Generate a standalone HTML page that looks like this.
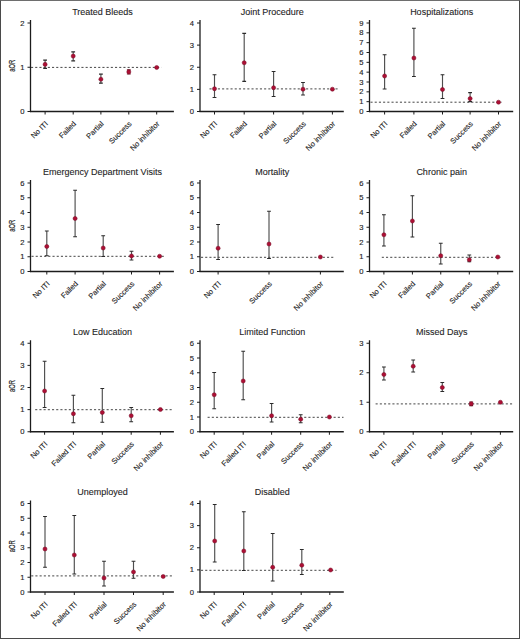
<!DOCTYPE html>
<html><head><meta charset="utf-8"><style>
html,body{margin:0;padding:0;background:#fff;}
body{width:520px;height:639px;overflow:hidden;}
.frame{position:absolute;left:0;top:0;width:518px;height:637px;border:1px solid #4a4a4a;border-top-color:#6e6e6e;}
svg{position:absolute;left:0;top:0;}
text{font-family:"Liberation Sans",sans-serif;fill:#1e1e1e;stroke:#1e1e1e;stroke-width:0.2px;}
.t{font-size:9px;text-anchor:middle;stroke-width:0.1px;}
.yl{font-size:8.4px;text-anchor:middle;}
.yt{font-size:7.6px;text-anchor:end;stroke-width:0.15px;}
.xt{font-size:7.5px;text-anchor:end;stroke-width:0.12px;}
.ax{stroke:#1c1c1c;stroke-width:1.3;}
.tk{stroke:#1c1c1c;stroke-width:1;}
.ds{stroke:#454545;stroke-width:1;stroke-dasharray:2.1 2.1;}
.eb{stroke:#4e4e4e;stroke-width:1.15;fill:none;}
.cp{stroke:#2a2a2a;stroke-width:1.2;fill:none;}
.cp2{stroke:#6a1a2a;stroke-width:1.2;fill:none;}
.dt{fill:#ad0f34;stroke:#750a24;stroke-width:0.5;}
</style></head><body>
<div class="frame"></div>
<svg width="520" height="639" viewBox="0 0 520 639">
<text x="102.5" y="14.7" class="t">Treated Bleeds</text>
<text transform="translate(14.5 65.8) rotate(-90) scale(0.7 1)" class="yl">aOR</text>
<line x1="30.5" y1="20" x2="30.5" y2="112.1" class="ax"/>
<line x1="29.9" y1="111.5" x2="173.9" y2="111.5" class="ax"/>
<line x1="27.5" y1="111.5" x2="30.5" y2="111.5" class="tk"/>
<text x="24.5" y="114" class="yt">0</text>
<line x1="27.5" y1="67.25" x2="30.5" y2="67.25" class="tk"/>
<text x="24.5" y="69.75" class="yt">1</text>
<line x1="27.5" y1="23" x2="30.5" y2="23" class="tk"/>
<text x="24.5" y="25.5" class="yt">2</text>
<line x1="45.1" y1="111.5" x2="45.1" y2="114.5" class="tk"/>
<text transform="translate(48.4 124.3) rotate(-45)" class="xt">No ITI</text>
<line x1="73.2" y1="111.5" x2="73.2" y2="114.5" class="tk"/>
<text transform="translate(76.5 124.3) rotate(-45)" class="xt">Failed</text>
<line x1="100.9" y1="111.5" x2="100.9" y2="114.5" class="tk"/>
<text transform="translate(104.2 124.3) rotate(-45)" class="xt">Partial</text>
<line x1="128.8" y1="111.5" x2="128.8" y2="114.5" class="tk"/>
<text transform="translate(132.1 124.3) rotate(-45)" class="xt">Success</text>
<line x1="156.7" y1="111.5" x2="156.7" y2="114.5" class="tk"/>
<text transform="translate(160 124.3) rotate(-45)" class="xt">No inhibitor</text>
<line x1="31" y1="67.4" x2="161.3" y2="67.4" class="ds"/>
<path d="M45.1 60.1V68.4" class="eb"/>
<path d="M43.2 60.1H47M43.2 68.4H47" class="cp"/>
<circle cx="45.1" cy="64.4" r="2.05" class="dt"/>
<path d="M73.2 51.9V60.8" class="eb"/>
<path d="M71.3 51.9H75.1M71.3 60.8H75.1" class="cp"/>
<circle cx="73.2" cy="56.1" r="2.05" class="dt"/>
<path d="M100.9 74.2V83.2" class="eb"/>
<path d="M99 74.2H102.8M99 83.2H102.8" class="cp"/>
<circle cx="100.9" cy="79.3" r="2.05" class="dt"/>
<path d="M128.8 69.8V74" class="eb"/>
<path d="M126.9 69.8H130.7M126.9 74H130.7" class="cp2"/>
<circle cx="128.8" cy="71.9" r="2.05" class="dt"/>
<circle cx="156.7" cy="67.5" r="2.05" class="dt"/>
<text x="272.2" y="14.7" class="t">Joint Procedure</text>
<line x1="200" y1="20" x2="200" y2="112.1" class="ax"/>
<line x1="199.4" y1="111.5" x2="343.8" y2="111.5" class="ax"/>
<line x1="197" y1="111.5" x2="200" y2="111.5" class="tk"/>
<text x="194" y="114" class="yt">0</text>
<line x1="197" y1="89.38" x2="200" y2="89.38" class="tk"/>
<text x="194" y="91.88" class="yt">1</text>
<line x1="197" y1="67.25" x2="200" y2="67.25" class="tk"/>
<text x="194" y="69.75" class="yt">2</text>
<line x1="197" y1="45.12" x2="200" y2="45.12" class="tk"/>
<text x="194" y="47.62" class="yt">3</text>
<line x1="197" y1="23" x2="200" y2="23" class="tk"/>
<text x="194" y="25.5" class="yt">4</text>
<line x1="214.5" y1="111.5" x2="214.5" y2="114.5" class="tk"/>
<text transform="translate(217.8 124.3) rotate(-45)" class="xt">No ITI</text>
<line x1="244.2" y1="111.5" x2="244.2" y2="114.5" class="tk"/>
<text transform="translate(247.5 124.3) rotate(-45)" class="xt">Failed</text>
<line x1="273.6" y1="111.5" x2="273.6" y2="114.5" class="tk"/>
<text transform="translate(276.9 124.3) rotate(-45)" class="xt">Partial</text>
<line x1="303" y1="111.5" x2="303" y2="114.5" class="tk"/>
<text transform="translate(306.3 124.3) rotate(-45)" class="xt">Success</text>
<line x1="332.4" y1="111.5" x2="332.4" y2="114.5" class="tk"/>
<text transform="translate(335.7 124.3) rotate(-45)" class="xt">No inhibitor</text>
<line x1="209.5" y1="88.9" x2="338.5" y2="88.9" class="ds"/>
<path d="M214.5 74.75V97.5" class="eb"/>
<path d="M212.6 74.75H216.4M212.6 97.5H216.4" class="cp"/>
<circle cx="214.5" cy="88.75" r="2.05" class="dt"/>
<path d="M244.2 33.4V81.3" class="eb"/>
<path d="M242.3 33.4H246.1M242.3 81.3H246.1" class="cp"/>
<circle cx="244.2" cy="62.75" r="2.05" class="dt"/>
<path d="M273.6 71.5V96.5" class="eb"/>
<path d="M271.7 71.5H275.5M271.7 96.5H275.5" class="cp"/>
<circle cx="273.6" cy="87.75" r="2.05" class="dt"/>
<path d="M303 82.5V95" class="eb"/>
<path d="M301.1 82.5H304.9M301.1 95H304.9" class="cp"/>
<circle cx="303" cy="89.25" r="2.05" class="dt"/>
<circle cx="332.4" cy="89.2" r="2.05" class="dt"/>
<text x="441.65" y="14.7" class="t">Hospitalizations</text>
<line x1="369.5" y1="20" x2="369.5" y2="112.1" class="ax"/>
<line x1="368.9" y1="111.5" x2="513.2" y2="111.5" class="ax"/>
<line x1="366.5" y1="111.5" x2="369.5" y2="111.5" class="tk"/>
<text x="363.5" y="114" class="yt">0</text>
<line x1="366.5" y1="101.67" x2="369.5" y2="101.67" class="tk"/>
<text x="363.5" y="104.17" class="yt">1</text>
<line x1="366.5" y1="91.83" x2="369.5" y2="91.83" class="tk"/>
<text x="363.5" y="94.33" class="yt">2</text>
<line x1="366.5" y1="82" x2="369.5" y2="82" class="tk"/>
<text x="363.5" y="84.5" class="yt">3</text>
<line x1="366.5" y1="72.17" x2="369.5" y2="72.17" class="tk"/>
<text x="363.5" y="74.67" class="yt">4</text>
<line x1="366.5" y1="62.33" x2="369.5" y2="62.33" class="tk"/>
<text x="363.5" y="64.83" class="yt">5</text>
<line x1="366.5" y1="52.5" x2="369.5" y2="52.5" class="tk"/>
<text x="363.5" y="55" class="yt">6</text>
<line x1="366.5" y1="42.67" x2="369.5" y2="42.67" class="tk"/>
<text x="363.5" y="45.17" class="yt">7</text>
<line x1="366.5" y1="32.83" x2="369.5" y2="32.83" class="tk"/>
<text x="363.5" y="35.33" class="yt">8</text>
<line x1="366.5" y1="23" x2="369.5" y2="23" class="tk"/>
<text x="363.5" y="25.5" class="yt">9</text>
<line x1="384.6" y1="111.5" x2="384.6" y2="114.5" class="tk"/>
<text transform="translate(387.9 124.3) rotate(-45)" class="xt">No ITI</text>
<line x1="413.9" y1="111.5" x2="413.9" y2="114.5" class="tk"/>
<text transform="translate(417.2 124.3) rotate(-45)" class="xt">Failed</text>
<line x1="442.5" y1="111.5" x2="442.5" y2="114.5" class="tk"/>
<text transform="translate(445.8 124.3) rotate(-45)" class="xt">Partial</text>
<line x1="470.1" y1="111.5" x2="470.1" y2="114.5" class="tk"/>
<text transform="translate(473.4 124.3) rotate(-45)" class="xt">Success</text>
<line x1="498.5" y1="111.5" x2="498.5" y2="114.5" class="tk"/>
<text transform="translate(501.8 124.3) rotate(-45)" class="xt">No inhibitor</text>
<line x1="370.5" y1="102.2" x2="501.5" y2="102.2" class="ds"/>
<path d="M384.6 54.75V89" class="eb"/>
<path d="M382.7 54.75H386.5M382.7 89H386.5" class="cp"/>
<circle cx="384.6" cy="76" r="2.05" class="dt"/>
<path d="M413.9 28.25V76.5" class="eb"/>
<path d="M412 28.25H415.8M412 76.5H415.8" class="cp"/>
<circle cx="413.9" cy="58" r="2.05" class="dt"/>
<path d="M442.5 74.75V98.5" class="eb"/>
<path d="M440.6 74.75H444.4M440.6 98.5H444.4" class="cp"/>
<circle cx="442.5" cy="89.5" r="2.05" class="dt"/>
<path d="M470.1 92.7V101.6" class="eb"/>
<path d="M468.2 92.7H472M468.2 101.6H472" class="cp"/>
<circle cx="470.1" cy="98.6" r="2.05" class="dt"/>
<circle cx="498.5" cy="102.2" r="2.05" class="dt"/>
<text x="102.5" y="174.7" class="t">Emergency Department Visits</text>
<text transform="translate(14.5 225.8) rotate(-90) scale(0.7 1)" class="yl">aOR</text>
<line x1="30.5" y1="180" x2="30.5" y2="272.1" class="ax"/>
<line x1="29.9" y1="271.5" x2="173.9" y2="271.5" class="ax"/>
<line x1="27.5" y1="271.5" x2="30.5" y2="271.5" class="tk"/>
<text x="24.5" y="274" class="yt">0</text>
<line x1="27.5" y1="256.75" x2="30.5" y2="256.75" class="tk"/>
<text x="24.5" y="259.25" class="yt">1</text>
<line x1="27.5" y1="242" x2="30.5" y2="242" class="tk"/>
<text x="24.5" y="244.5" class="yt">2</text>
<line x1="27.5" y1="227.25" x2="30.5" y2="227.25" class="tk"/>
<text x="24.5" y="229.75" class="yt">3</text>
<line x1="27.5" y1="212.5" x2="30.5" y2="212.5" class="tk"/>
<text x="24.5" y="215" class="yt">4</text>
<line x1="27.5" y1="197.75" x2="30.5" y2="197.75" class="tk"/>
<text x="24.5" y="200.25" class="yt">5</text>
<line x1="27.5" y1="183" x2="30.5" y2="183" class="tk"/>
<text x="24.5" y="185.5" class="yt">6</text>
<line x1="46.8" y1="271.5" x2="46.8" y2="274.5" class="tk"/>
<text transform="translate(50.1 284.3) rotate(-45)" class="xt">No ITI</text>
<line x1="75.1" y1="271.5" x2="75.1" y2="274.5" class="tk"/>
<text transform="translate(78.4 284.3) rotate(-45)" class="xt">Failed</text>
<line x1="103.2" y1="271.5" x2="103.2" y2="274.5" class="tk"/>
<text transform="translate(106.5 284.3) rotate(-45)" class="xt">Partial</text>
<line x1="131.5" y1="271.5" x2="131.5" y2="274.5" class="tk"/>
<text transform="translate(134.8 284.3) rotate(-45)" class="xt">Success</text>
<line x1="159.6" y1="271.5" x2="159.6" y2="274.5" class="tk"/>
<text transform="translate(162.9 284.3) rotate(-45)" class="xt">No inhibitor</text>
<line x1="31.5" y1="256.3" x2="164" y2="256.3" class="ds"/>
<path d="M46.8 231V255.75" class="eb"/>
<path d="M44.9 231H48.7M44.9 255.75H48.7" class="cp"/>
<circle cx="46.8" cy="246.5" r="2.05" class="dt"/>
<path d="M75.1 190.25V236.75" class="eb"/>
<path d="M73.2 190.25H77M73.2 236.75H77" class="cp"/>
<circle cx="75.1" cy="218.5" r="2.05" class="dt"/>
<path d="M103.2 235.75V256.5" class="eb"/>
<path d="M101.3 235.75H105.1M101.3 256.5H105.1" class="cp"/>
<circle cx="103.2" cy="248" r="2.05" class="dt"/>
<path d="M131.5 251.25V260" class="eb"/>
<path d="M129.6 251.25H133.4M129.6 260H133.4" class="cp"/>
<circle cx="131.5" cy="256" r="2.05" class="dt"/>
<circle cx="159.6" cy="256.25" r="2.05" class="dt"/>
<text x="272.2" y="174.7" class="t">Mortality</text>
<line x1="200" y1="180" x2="200" y2="272.1" class="ax"/>
<line x1="199.4" y1="271.5" x2="343.8" y2="271.5" class="ax"/>
<line x1="197" y1="271.5" x2="200" y2="271.5" class="tk"/>
<text x="194" y="274" class="yt">0</text>
<line x1="197" y1="256.75" x2="200" y2="256.75" class="tk"/>
<text x="194" y="259.25" class="yt">1</text>
<line x1="197" y1="242" x2="200" y2="242" class="tk"/>
<text x="194" y="244.5" class="yt">2</text>
<line x1="197" y1="227.25" x2="200" y2="227.25" class="tk"/>
<text x="194" y="229.75" class="yt">3</text>
<line x1="197" y1="212.5" x2="200" y2="212.5" class="tk"/>
<text x="194" y="215" class="yt">4</text>
<line x1="197" y1="197.75" x2="200" y2="197.75" class="tk"/>
<text x="194" y="200.25" class="yt">5</text>
<line x1="197" y1="183" x2="200" y2="183" class="tk"/>
<text x="194" y="185.5" class="yt">6</text>
<line x1="218.1" y1="271.5" x2="218.1" y2="274.5" class="tk"/>
<text transform="translate(221.4 284.3) rotate(-45)" class="xt">No ITI</text>
<line x1="269" y1="271.5" x2="269" y2="274.5" class="tk"/>
<text transform="translate(272.3 284.3) rotate(-45)" class="xt">Success</text>
<line x1="320.4" y1="271.5" x2="320.4" y2="274.5" class="tk"/>
<text transform="translate(323.7 284.3) rotate(-45)" class="xt">No inhibitor</text>
<line x1="201" y1="257.3" x2="333.5" y2="257.3" class="ds"/>
<path d="M218.1 224.5V259.5" class="eb"/>
<path d="M216.2 224.5H220M216.2 259.5H220" class="cp"/>
<circle cx="218.1" cy="248.25" r="2.05" class="dt"/>
<path d="M269 211.25V258.5" class="eb"/>
<path d="M267.1 211.25H270.9M267.1 258.5H270.9" class="cp"/>
<circle cx="269" cy="244" r="2.05" class="dt"/>
<circle cx="320.4" cy="257" r="2.05" class="dt"/>
<text x="441.65" y="174.7" class="t">Chronic pain</text>
<line x1="369.5" y1="180" x2="369.5" y2="272.1" class="ax"/>
<line x1="368.9" y1="271.5" x2="513.2" y2="271.5" class="ax"/>
<line x1="366.5" y1="271.5" x2="369.5" y2="271.5" class="tk"/>
<text x="363.5" y="274" class="yt">0</text>
<line x1="366.5" y1="256.75" x2="369.5" y2="256.75" class="tk"/>
<text x="363.5" y="259.25" class="yt">1</text>
<line x1="366.5" y1="242" x2="369.5" y2="242" class="tk"/>
<text x="363.5" y="244.5" class="yt">2</text>
<line x1="366.5" y1="227.25" x2="369.5" y2="227.25" class="tk"/>
<text x="363.5" y="229.75" class="yt">3</text>
<line x1="366.5" y1="212.5" x2="369.5" y2="212.5" class="tk"/>
<text x="363.5" y="215" class="yt">4</text>
<line x1="366.5" y1="197.75" x2="369.5" y2="197.75" class="tk"/>
<text x="363.5" y="200.25" class="yt">5</text>
<line x1="366.5" y1="183" x2="369.5" y2="183" class="tk"/>
<text x="363.5" y="185.5" class="yt">6</text>
<line x1="383.9" y1="271.5" x2="383.9" y2="274.5" class="tk"/>
<text transform="translate(387.2 284.3) rotate(-45)" class="xt">No ITI</text>
<line x1="412.4" y1="271.5" x2="412.4" y2="274.5" class="tk"/>
<text transform="translate(415.7 284.3) rotate(-45)" class="xt">Failed</text>
<line x1="440.75" y1="271.5" x2="440.75" y2="274.5" class="tk"/>
<text transform="translate(444.05 284.3) rotate(-45)" class="xt">Partial</text>
<line x1="469.3" y1="271.5" x2="469.3" y2="274.5" class="tk"/>
<text transform="translate(472.6 284.3) rotate(-45)" class="xt">Success</text>
<line x1="497.8" y1="271.5" x2="497.8" y2="274.5" class="tk"/>
<text transform="translate(501.1 284.3) rotate(-45)" class="xt">No inhibitor</text>
<line x1="381.8" y1="257.3" x2="500.5" y2="257.3" class="ds"/>
<path d="M383.9 214.75V246" class="eb"/>
<path d="M382 214.75H385.8M382 246H385.8" class="cp"/>
<circle cx="383.9" cy="234.75" r="2.05" class="dt"/>
<path d="M412.4 195.75V237" class="eb"/>
<path d="M410.5 195.75H414.3M410.5 237H414.3" class="cp"/>
<circle cx="412.4" cy="221" r="2.05" class="dt"/>
<path d="M440.75 243.25V264" class="eb"/>
<path d="M438.85 243.25H442.65M438.85 264H442.65" class="cp"/>
<circle cx="440.75" cy="255.75" r="2.05" class="dt"/>
<path d="M469.3 255V261.75" class="eb"/>
<path d="M467.4 255H471.2M467.4 261.75H471.2" class="cp"/>
<circle cx="469.3" cy="259.8" r="2.05" class="dt"/>
<circle cx="497.8" cy="257" r="2.05" class="dt"/>
<text x="102.5" y="334.95" class="t">Low Education</text>
<text transform="translate(14.5 386.05) rotate(-90) scale(0.7 1)" class="yl">aOR</text>
<line x1="30.5" y1="340.25" x2="30.5" y2="432.35" class="ax"/>
<line x1="29.9" y1="431.75" x2="173.9" y2="431.75" class="ax"/>
<line x1="27.5" y1="431.75" x2="30.5" y2="431.75" class="tk"/>
<text x="24.5" y="434.25" class="yt">0</text>
<line x1="27.5" y1="409.62" x2="30.5" y2="409.62" class="tk"/>
<text x="24.5" y="412.12" class="yt">1</text>
<line x1="27.5" y1="387.5" x2="30.5" y2="387.5" class="tk"/>
<text x="24.5" y="390" class="yt">2</text>
<line x1="27.5" y1="365.38" x2="30.5" y2="365.38" class="tk"/>
<text x="24.5" y="367.88" class="yt">3</text>
<line x1="27.5" y1="343.25" x2="30.5" y2="343.25" class="tk"/>
<text x="24.5" y="345.75" class="yt">4</text>
<line x1="44.6" y1="431.75" x2="44.6" y2="434.75" class="tk"/>
<text transform="translate(47.9 444.55) rotate(-45)" class="xt">No ITI</text>
<line x1="73.4" y1="431.75" x2="73.4" y2="434.75" class="tk"/>
<text transform="translate(76.7 444.55) rotate(-45)" class="xt">Failed ITI</text>
<line x1="102.3" y1="431.75" x2="102.3" y2="434.75" class="tk"/>
<text transform="translate(105.6 444.55) rotate(-45)" class="xt">Partial</text>
<line x1="131.2" y1="431.75" x2="131.2" y2="434.75" class="tk"/>
<text transform="translate(134.5 444.55) rotate(-45)" class="xt">Success</text>
<line x1="160.4" y1="431.75" x2="160.4" y2="434.75" class="tk"/>
<text transform="translate(163.7 444.55) rotate(-45)" class="xt">No inhibitor</text>
<line x1="35.2" y1="409.7" x2="172.5" y2="409.7" class="ds"/>
<path d="M44.6 361.25V407.5" class="eb"/>
<path d="M42.7 361.25H46.5M42.7 407.5H46.5" class="cp"/>
<circle cx="44.6" cy="391" r="2.05" class="dt"/>
<path d="M73.4 395.25V422.75" class="eb"/>
<path d="M71.5 395.25H75.3M71.5 422.75H75.3" class="cp"/>
<circle cx="73.4" cy="413.75" r="2.05" class="dt"/>
<path d="M102.3 388.5V422.25" class="eb"/>
<path d="M100.4 388.5H104.2M100.4 422.25H104.2" class="cp"/>
<circle cx="102.3" cy="412.5" r="2.05" class="dt"/>
<path d="M131.2 407.5V421.75" class="eb"/>
<path d="M129.3 407.5H133.1M129.3 421.75H133.1" class="cp"/>
<circle cx="131.2" cy="415.75" r="2.05" class="dt"/>
<circle cx="160.4" cy="409.5" r="2.05" class="dt"/>
<text x="272.2" y="334.95" class="t">Limited Function</text>
<line x1="200" y1="340.25" x2="200" y2="432.35" class="ax"/>
<line x1="199.4" y1="431.75" x2="343.8" y2="431.75" class="ax"/>
<line x1="197" y1="431.75" x2="200" y2="431.75" class="tk"/>
<text x="194" y="434.25" class="yt">0</text>
<line x1="197" y1="417" x2="200" y2="417" class="tk"/>
<text x="194" y="419.5" class="yt">1</text>
<line x1="197" y1="402.25" x2="200" y2="402.25" class="tk"/>
<text x="194" y="404.75" class="yt">2</text>
<line x1="197" y1="387.5" x2="200" y2="387.5" class="tk"/>
<text x="194" y="390" class="yt">3</text>
<line x1="197" y1="372.75" x2="200" y2="372.75" class="tk"/>
<text x="194" y="375.25" class="yt">4</text>
<line x1="197" y1="358" x2="200" y2="358" class="tk"/>
<text x="194" y="360.5" class="yt">5</text>
<line x1="197" y1="343.25" x2="200" y2="343.25" class="tk"/>
<text x="194" y="345.75" class="yt">6</text>
<line x1="214.2" y1="431.75" x2="214.2" y2="434.75" class="tk"/>
<text transform="translate(217.5 444.55) rotate(-45)" class="xt">No ITI</text>
<line x1="243.2" y1="431.75" x2="243.2" y2="434.75" class="tk"/>
<text transform="translate(246.5 444.55) rotate(-45)" class="xt">Failed ITI</text>
<line x1="271.6" y1="431.75" x2="271.6" y2="434.75" class="tk"/>
<text transform="translate(274.9 444.55) rotate(-45)" class="xt">Partial</text>
<line x1="300.7" y1="431.75" x2="300.7" y2="434.75" class="tk"/>
<text transform="translate(304 444.55) rotate(-45)" class="xt">Success</text>
<line x1="329.4" y1="431.75" x2="329.4" y2="434.75" class="tk"/>
<text transform="translate(332.7 444.55) rotate(-45)" class="xt">No inhibitor</text>
<line x1="207.6" y1="417.3" x2="343.5" y2="417.3" class="ds"/>
<path d="M214.2 372.5V408.75" class="eb"/>
<path d="M212.3 372.5H216.1M212.3 408.75H216.1" class="cp"/>
<circle cx="214.2" cy="394.75" r="2.05" class="dt"/>
<path d="M243.2 351.25V399.75" class="eb"/>
<path d="M241.3 351.25H245.1M241.3 399.75H245.1" class="cp"/>
<circle cx="243.2" cy="381" r="2.05" class="dt"/>
<path d="M271.6 403.5V422" class="eb"/>
<path d="M269.7 403.5H273.5M269.7 422H273.5" class="cp"/>
<circle cx="271.6" cy="415.75" r="2.05" class="dt"/>
<path d="M300.7 414.75V422.75" class="eb"/>
<path d="M298.8 414.75H302.6M298.8 422.75H302.6" class="cp"/>
<circle cx="300.7" cy="419.25" r="2.05" class="dt"/>
<circle cx="329.4" cy="417" r="2.05" class="dt"/>
<text x="441.65" y="334.95" class="t">Missed Days</text>
<line x1="369.5" y1="340.25" x2="369.5" y2="432.35" class="ax"/>
<line x1="368.9" y1="431.75" x2="513.2" y2="431.75" class="ax"/>
<line x1="366.5" y1="431.75" x2="369.5" y2="431.75" class="tk"/>
<text x="363.5" y="434.25" class="yt">0</text>
<line x1="366.5" y1="402.25" x2="369.5" y2="402.25" class="tk"/>
<text x="363.5" y="404.75" class="yt">1</text>
<line x1="366.5" y1="372.75" x2="369.5" y2="372.75" class="tk"/>
<text x="363.5" y="375.25" class="yt">2</text>
<line x1="366.5" y1="343.25" x2="369.5" y2="343.25" class="tk"/>
<text x="363.5" y="345.75" class="yt">3</text>
<line x1="383.9" y1="431.75" x2="383.9" y2="434.75" class="tk"/>
<text transform="translate(387.2 444.55) rotate(-45)" class="xt">No ITI</text>
<line x1="413.2" y1="431.75" x2="413.2" y2="434.75" class="tk"/>
<text transform="translate(416.5 444.55) rotate(-45)" class="xt">Failed ITI</text>
<line x1="442.3" y1="431.75" x2="442.3" y2="434.75" class="tk"/>
<text transform="translate(445.6 444.55) rotate(-45)" class="xt">Partial</text>
<line x1="471.2" y1="431.75" x2="471.2" y2="434.75" class="tk"/>
<text transform="translate(474.5 444.55) rotate(-45)" class="xt">Success</text>
<line x1="500.4" y1="431.75" x2="500.4" y2="434.75" class="tk"/>
<text transform="translate(503.7 444.55) rotate(-45)" class="xt">No inhibitor</text>
<line x1="375.6" y1="403.9" x2="513" y2="403.9" class="ds"/>
<path d="M383.9 367V380" class="eb"/>
<path d="M382 367H385.8M382 380H385.8" class="cp"/>
<circle cx="383.9" cy="374.5" r="2.05" class="dt"/>
<path d="M413.2 360V372" class="eb"/>
<path d="M411.3 360H415.1M411.3 372H415.1" class="cp"/>
<circle cx="413.2" cy="366.25" r="2.05" class="dt"/>
<path d="M442.3 382.5V391.5" class="eb"/>
<path d="M440.4 382.5H444.2M440.4 391.5H444.2" class="cp"/>
<circle cx="442.3" cy="387.5" r="2.05" class="dt"/>
<path d="M471.2 402V405.6" class="eb"/>
<path d="M469.3 402H473.1M469.3 405.6H473.1" class="cp2"/>
<circle cx="471.2" cy="403.8" r="2.05" class="dt"/>
<circle cx="500.4" cy="402.3" r="2.05" class="dt"/>
<text x="102.5" y="495.2" class="t">Unemployed</text>
<text transform="translate(14.5 546.3) rotate(-90) scale(0.7 1)" class="yl">aOR</text>
<line x1="30.5" y1="500.5" x2="30.5" y2="592.6" class="ax"/>
<line x1="29.9" y1="592" x2="173.9" y2="592" class="ax"/>
<line x1="27.5" y1="592" x2="30.5" y2="592" class="tk"/>
<text x="24.5" y="594.5" class="yt">0</text>
<line x1="27.5" y1="577.25" x2="30.5" y2="577.25" class="tk"/>
<text x="24.5" y="579.75" class="yt">1</text>
<line x1="27.5" y1="562.5" x2="30.5" y2="562.5" class="tk"/>
<text x="24.5" y="565" class="yt">2</text>
<line x1="27.5" y1="547.75" x2="30.5" y2="547.75" class="tk"/>
<text x="24.5" y="550.25" class="yt">3</text>
<line x1="27.5" y1="533" x2="30.5" y2="533" class="tk"/>
<text x="24.5" y="535.5" class="yt">4</text>
<line x1="27.5" y1="518.25" x2="30.5" y2="518.25" class="tk"/>
<text x="24.5" y="520.75" class="yt">5</text>
<line x1="27.5" y1="503.5" x2="30.5" y2="503.5" class="tk"/>
<text x="24.5" y="506" class="yt">6</text>
<line x1="45" y1="592" x2="45" y2="595" class="tk"/>
<text transform="translate(48.3 604.8) rotate(-45)" class="xt">No ITI</text>
<line x1="74.3" y1="592" x2="74.3" y2="595" class="tk"/>
<text transform="translate(77.6 604.8) rotate(-45)" class="xt">Failed ITI</text>
<line x1="104" y1="592" x2="104" y2="595" class="tk"/>
<text transform="translate(107.3 604.8) rotate(-45)" class="xt">Partial</text>
<line x1="133.5" y1="592" x2="133.5" y2="595" class="tk"/>
<text transform="translate(136.8 604.8) rotate(-45)" class="xt">Success</text>
<line x1="163.2" y1="592" x2="163.2" y2="595" class="tk"/>
<text transform="translate(166.5 604.8) rotate(-45)" class="xt">No inhibitor</text>
<line x1="31.2" y1="575.9" x2="174" y2="575.9" class="ds"/>
<path d="M45 516.5V567.25" class="eb"/>
<path d="M43.1 516.5H46.9M43.1 567.25H46.9" class="cp"/>
<circle cx="45" cy="549" r="2.05" class="dt"/>
<path d="M74.3 515.5V574" class="eb"/>
<path d="M72.4 515.5H76.2M72.4 574H76.2" class="cp"/>
<circle cx="74.3" cy="555" r="2.05" class="dt"/>
<path d="M104 561.25V586" class="eb"/>
<path d="M102.1 561.25H105.9M102.1 586H105.9" class="cp"/>
<circle cx="104" cy="578" r="2.05" class="dt"/>
<path d="M133.5 561.25V578.25" class="eb"/>
<path d="M131.6 561.25H135.4M131.6 578.25H135.4" class="cp"/>
<circle cx="133.5" cy="572" r="2.05" class="dt"/>
<circle cx="163.2" cy="576.5" r="2.05" class="dt"/>
<text x="272.2" y="495.2" class="t">Disabled</text>
<line x1="200" y1="500.5" x2="200" y2="592.6" class="ax"/>
<line x1="199.4" y1="592" x2="343.8" y2="592" class="ax"/>
<line x1="197" y1="592" x2="200" y2="592" class="tk"/>
<text x="194" y="594.5" class="yt">0</text>
<line x1="197" y1="569.88" x2="200" y2="569.88" class="tk"/>
<text x="194" y="572.38" class="yt">1</text>
<line x1="197" y1="547.75" x2="200" y2="547.75" class="tk"/>
<text x="194" y="550.25" class="yt">2</text>
<line x1="197" y1="525.62" x2="200" y2="525.62" class="tk"/>
<text x="194" y="528.12" class="yt">3</text>
<line x1="197" y1="503.5" x2="200" y2="503.5" class="tk"/>
<text x="194" y="506" class="yt">4</text>
<line x1="214.2" y1="592" x2="214.2" y2="595" class="tk"/>
<text transform="translate(217.5 604.8) rotate(-45)" class="xt">No ITI</text>
<line x1="243.5" y1="592" x2="243.5" y2="595" class="tk"/>
<text transform="translate(246.8 604.8) rotate(-45)" class="xt">Failed ITI</text>
<line x1="272.1" y1="592" x2="272.1" y2="595" class="tk"/>
<text transform="translate(275.4 604.8) rotate(-45)" class="xt">Partial</text>
<line x1="301.2" y1="592" x2="301.2" y2="595" class="tk"/>
<text transform="translate(304.5 604.8) rotate(-45)" class="xt">Success</text>
<line x1="329.8" y1="592" x2="329.8" y2="595" class="tk"/>
<text transform="translate(333.1 604.8) rotate(-45)" class="xt">No inhibitor</text>
<line x1="201" y1="570.3" x2="336.5" y2="570.3" class="ds"/>
<path d="M214.7 504.5V562" class="eb"/>
<path d="M212.8 504.5H216.6M212.8 562H216.6" class="cp"/>
<circle cx="214.7" cy="541" r="2.05" class="dt"/>
<path d="M243.8 511.75V570.5" class="eb"/>
<path d="M241.9 511.75H245.7M241.9 570.5H245.7" class="cp"/>
<circle cx="243.8" cy="551" r="2.05" class="dt"/>
<path d="M272.7 533.5V581" class="eb"/>
<path d="M270.8 533.5H274.6M270.8 581H274.6" class="cp"/>
<circle cx="272.7" cy="567.25" r="2.05" class="dt"/>
<path d="M301.8 549.5V574.5" class="eb"/>
<path d="M299.9 549.5H303.7M299.9 574.5H303.7" class="cp"/>
<circle cx="301.8" cy="565.25" r="2.05" class="dt"/>
<circle cx="330.6" cy="570" r="2.05" class="dt"/>
</svg>
</body></html>
